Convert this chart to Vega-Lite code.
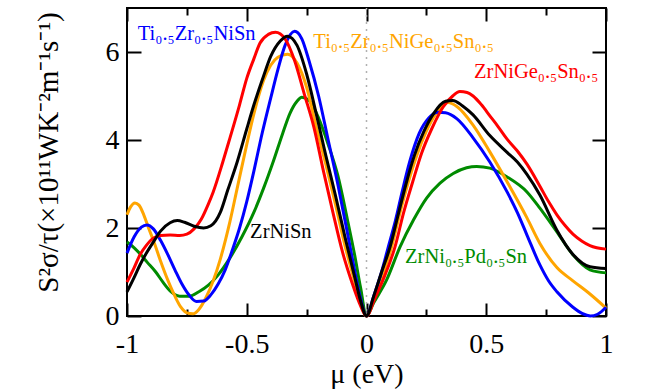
{
"$schema": "https://vega.github.io/schema/vega-lite/v6.json",
"width": 479, "height": 308,
"autosize": {"type": "none"},
"padding": {"left": 127, "top": 8, "right": 46, "bottom": 74},
"background": "white",
"config": {"view": {"stroke": "black", "strokeWidth": 2}},
"datasets": {
"curves": [
{"s":"ZrNi0.5Pd0.5Sn","x":-1,"y":1.68},{"s":"ZrNi0.5Pd0.5Sn","x":-0.97,"y":1.55},{"s":"ZrNi0.5Pd0.5Sn","x":-0.94,"y":1.38},{"s":"ZrNi0.5Pd0.5Sn","x":-0.917,"y":1.23},{"s":"ZrNi0.5Pd0.5Sn","x":-0.88,"y":1.0},{"s":"ZrNi0.5Pd0.5Sn","x":-0.85,"y":0.77},{"s":"ZrNi0.5Pd0.5Sn","x":-0.82,"y":0.57},{"s":"ZrNi0.5Pd0.5Sn","x":-0.78,"y":0.45},{"s":"ZrNi0.5Pd0.5Sn","x":-0.74,"y":0.45},{"s":"ZrNi0.5Pd0.5Sn","x":-0.7,"y":0.55},{"s":"ZrNi0.5Pd0.5Sn","x":-0.66,"y":0.7},{"s":"ZrNi0.5Pd0.5Sn","x":-0.62,"y":0.93},{"s":"ZrNi0.5Pd0.5Sn","x":-0.57,"y":1.32},{"s":"ZrNi0.5Pd0.5Sn","x":-0.52,"y":1.8},{"s":"ZrNi0.5Pd0.5Sn","x":-0.47,"y":2.36},{"s":"ZrNi0.5Pd0.5Sn","x":-0.43,"y":2.9},{"s":"ZrNi0.5Pd0.5Sn","x":-0.39,"y":3.5},{"s":"ZrNi0.5Pd0.5Sn","x":-0.35,"y":4.15},{"s":"ZrNi0.5Pd0.5Sn","x":-0.32,"y":4.6},{"s":"ZrNi0.5Pd0.5Sn","x":-0.29,"y":4.88},{"s":"ZrNi0.5Pd0.5Sn","x":-0.27,"y":4.97},{"s":"ZrNi0.5Pd0.5Sn","x":-0.24,"y":4.9},{"s":"ZrNi0.5Pd0.5Sn","x":-0.2,"y":4.5},{"s":"ZrNi0.5Pd0.5Sn","x":-0.16,"y":3.9},{"s":"ZrNi0.5Pd0.5Sn","x":-0.12,"y":3.2},{"s":"ZrNi0.5Pd0.5Sn","x":-0.08,"y":2.2},{"s":"ZrNi0.5Pd0.5Sn","x":-0.05,"y":1.4},{"s":"ZrNi0.5Pd0.5Sn","x":-0.025,"y":0.65},{"s":"ZrNi0.5Pd0.5Sn","x":0,"y":0},{"s":"ZrNi0.5Pd0.5Sn","x":0.03,"y":0.3},{"s":"ZrNi0.5Pd0.5Sn","x":0.084,"y":0.82},{"s":"ZrNi0.5Pd0.5Sn","x":0.14,"y":1.57},{"s":"ZrNi0.5Pd0.5Sn","x":0.196,"y":2.18},{"s":"ZrNi0.5Pd0.5Sn","x":0.251,"y":2.68},{"s":"ZrNi0.5Pd0.5Sn","x":0.307,"y":3.02},{"s":"ZrNi0.5Pd0.5Sn","x":0.362,"y":3.24},{"s":"ZrNi0.5Pd0.5Sn","x":0.418,"y":3.37},{"s":"ZrNi0.5Pd0.5Sn","x":0.46,"y":3.4},{"s":"ZrNi0.5Pd0.5Sn","x":0.515,"y":3.36},{"s":"ZrNi0.5Pd0.5Sn","x":0.587,"y":3.16},{"s":"ZrNi0.5Pd0.5Sn","x":0.67,"y":2.82},{"s":"ZrNi0.5Pd0.5Sn","x":0.724,"y":2.45},{"s":"ZrNi0.5Pd0.5Sn","x":0.795,"y":1.91},{"s":"ZrNi0.5Pd0.5Sn","x":0.862,"y":1.39},{"s":"ZrNi0.5Pd0.5Sn","x":0.933,"y":1.05},{"s":"ZrNi0.5Pd0.5Sn","x":1,"y":0.98},
{"s":"Ti0.5Zr0.5NiGe0.5Sn0.5","x":-1,"y":2.3},{"s":"Ti0.5Zr0.5NiGe0.5Sn0.5","x":-0.985,"y":2.48},{"s":"Ti0.5Zr0.5NiGe0.5Sn0.5","x":-0.967,"y":2.57},{"s":"Ti0.5Zr0.5NiGe0.5Sn0.5","x":-0.95,"y":2.52},{"s":"Ti0.5Zr0.5NiGe0.5Sn0.5","x":-0.93,"y":2.3},{"s":"Ti0.5Zr0.5NiGe0.5Sn0.5","x":-0.91,"y":2.0},{"s":"Ti0.5Zr0.5NiGe0.5Sn0.5","x":-0.89,"y":1.72},{"s":"Ti0.5Zr0.5NiGe0.5Sn0.5","x":-0.86,"y":1.25},{"s":"Ti0.5Zr0.5NiGe0.5Sn0.5","x":-0.83,"y":0.82},{"s":"Ti0.5Zr0.5NiGe0.5Sn0.5","x":-0.8,"y":0.45},{"s":"Ti0.5Zr0.5NiGe0.5Sn0.5","x":-0.775,"y":0.2},{"s":"Ti0.5Zr0.5NiGe0.5Sn0.5","x":-0.75,"y":0.07},{"s":"Ti0.5Zr0.5NiGe0.5Sn0.5","x":-0.725,"y":0.05},{"s":"Ti0.5Zr0.5NiGe0.5Sn0.5","x":-0.7,"y":0.15},{"s":"Ti0.5Zr0.5NiGe0.5Sn0.5","x":-0.67,"y":0.42},{"s":"Ti0.5Zr0.5NiGe0.5Sn0.5","x":-0.64,"y":0.8},{"s":"Ti0.5Zr0.5NiGe0.5Sn0.5","x":-0.61,"y":1.3},{"s":"Ti0.5Zr0.5NiGe0.5Sn0.5","x":-0.57,"y":2.15},{"s":"Ti0.5Zr0.5NiGe0.5Sn0.5","x":-0.54,"y":2.9},{"s":"Ti0.5Zr0.5NiGe0.5Sn0.5","x":-0.5,"y":3.9},{"s":"Ti0.5Zr0.5NiGe0.5Sn0.5","x":-0.47,"y":4.6},{"s":"Ti0.5Zr0.5NiGe0.5Sn0.5","x":-0.43,"y":5.35},{"s":"Ti0.5Zr0.5NiGe0.5Sn0.5","x":-0.4,"y":5.7},{"s":"Ti0.5Zr0.5NiGe0.5Sn0.5","x":-0.37,"y":5.88},{"s":"Ti0.5Zr0.5NiGe0.5Sn0.5","x":-0.33,"y":5.95},{"s":"Ti0.5Zr0.5NiGe0.5Sn0.5","x":-0.29,"y":5.75},{"s":"Ti0.5Zr0.5NiGe0.5Sn0.5","x":-0.25,"y":5.2},{"s":"Ti0.5Zr0.5NiGe0.5Sn0.5","x":-0.21,"y":4.3},{"s":"Ti0.5Zr0.5NiGe0.5Sn0.5","x":-0.17,"y":3.45},{"s":"Ti0.5Zr0.5NiGe0.5Sn0.5","x":-0.13,"y":2.55},{"s":"Ti0.5Zr0.5NiGe0.5Sn0.5","x":-0.09,"y":1.6},{"s":"Ti0.5Zr0.5NiGe0.5Sn0.5","x":-0.05,"y":0.8},{"s":"Ti0.5Zr0.5NiGe0.5Sn0.5","x":-0.025,"y":0.3},{"s":"Ti0.5Zr0.5NiGe0.5Sn0.5","x":0,"y":0},{"s":"Ti0.5Zr0.5NiGe0.5Sn0.5","x":0.03,"y":0.4},{"s":"Ti0.5Zr0.5NiGe0.5Sn0.5","x":0.065,"y":0.9},{"s":"Ti0.5Zr0.5NiGe0.5Sn0.5","x":0.105,"y":1.57},{"s":"Ti0.5Zr0.5NiGe0.5Sn0.5","x":0.14,"y":2.35},{"s":"Ti0.5Zr0.5NiGe0.5Sn0.5","x":0.175,"y":3.05},{"s":"Ti0.5Zr0.5NiGe0.5Sn0.5","x":0.21,"y":3.65},{"s":"Ti0.5Zr0.5NiGe0.5Sn0.5","x":0.25,"y":4.2},{"s":"Ti0.5Zr0.5NiGe0.5Sn0.5","x":0.29,"y":4.6},{"s":"Ti0.5Zr0.5NiGe0.5Sn0.5","x":0.34,"y":4.85},{"s":"Ti0.5Zr0.5NiGe0.5Sn0.5","x":0.38,"y":4.75},{"s":"Ti0.5Zr0.5NiGe0.5Sn0.5","x":0.445,"y":4.34},{"s":"Ti0.5Zr0.5NiGe0.5Sn0.5","x":0.515,"y":3.73},{"s":"Ti0.5Zr0.5NiGe0.5Sn0.5","x":0.587,"y":3.05},{"s":"Ti0.5Zr0.5NiGe0.5Sn0.5","x":0.67,"y":2.23},{"s":"Ti0.5Zr0.5NiGe0.5Sn0.5","x":0.724,"y":1.65},{"s":"Ti0.5Zr0.5NiGe0.5Sn0.5","x":0.795,"y":1.1},{"s":"Ti0.5Zr0.5NiGe0.5Sn0.5","x":0.862,"y":0.8},{"s":"Ti0.5Zr0.5NiGe0.5Sn0.5","x":0.933,"y":0.5},{"s":"Ti0.5Zr0.5NiGe0.5Sn0.5","x":1,"y":0.18},
{"s":"Ti0.5Zr0.5NiSn","x":-1,"y":1.43},{"s":"Ti0.5Zr0.5NiSn","x":-0.97,"y":1.8},{"s":"Ti0.5Zr0.5NiSn","x":-0.94,"y":2.02},{"s":"Ti0.5Zr0.5NiSn","x":-0.917,"y":2.07},{"s":"Ti0.5Zr0.5NiSn","x":-0.89,"y":1.98},{"s":"Ti0.5Zr0.5NiSn","x":-0.86,"y":1.72},{"s":"Ti0.5Zr0.5NiSn","x":-0.83,"y":1.4},{"s":"Ti0.5Zr0.5NiSn","x":-0.8,"y":1.05},{"s":"Ti0.5Zr0.5NiSn","x":-0.77,"y":0.72},{"s":"Ti0.5Zr0.5NiSn","x":-0.74,"y":0.47},{"s":"Ti0.5Zr0.5NiSn","x":-0.71,"y":0.33},{"s":"Ti0.5Zr0.5NiSn","x":-0.68,"y":0.34},{"s":"Ti0.5Zr0.5NiSn","x":-0.65,"y":0.48},{"s":"Ti0.5Zr0.5NiSn","x":-0.62,"y":0.72},{"s":"Ti0.5Zr0.5NiSn","x":-0.59,"y":1.05},{"s":"Ti0.5Zr0.5NiSn","x":-0.56,"y":1.5},{"s":"Ti0.5Zr0.5NiSn","x":-0.53,"y":2.0},{"s":"Ti0.5Zr0.5NiSn","x":-0.5,"y":2.6},{"s":"Ti0.5Zr0.5NiSn","x":-0.47,"y":3.3},{"s":"Ti0.5Zr0.5NiSn","x":-0.44,"y":4.05},{"s":"Ti0.5Zr0.5NiSn","x":-0.4,"y":4.95},{"s":"Ti0.5Zr0.5NiSn","x":-0.37,"y":5.6},{"s":"Ti0.5Zr0.5NiSn","x":-0.34,"y":6.15},{"s":"Ti0.5Zr0.5NiSn","x":-0.3,"y":6.47},{"s":"Ti0.5Zr0.5NiSn","x":-0.27,"y":6.3},{"s":"Ti0.5Zr0.5NiSn","x":-0.24,"y":5.8},{"s":"Ti0.5Zr0.5NiSn","x":-0.2,"y":5.0},{"s":"Ti0.5Zr0.5NiSn","x":-0.16,"y":4.0},{"s":"Ti0.5Zr0.5NiSn","x":-0.12,"y":3.0},{"s":"Ti0.5Zr0.5NiSn","x":-0.08,"y":1.9},{"s":"Ti0.5Zr0.5NiSn","x":-0.05,"y":1.05},{"s":"Ti0.5Zr0.5NiSn","x":-0.025,"y":0.4},{"s":"Ti0.5Zr0.5NiSn","x":0,"y":0},{"s":"Ti0.5Zr0.5NiSn","x":0.03,"y":0.45},{"s":"Ti0.5Zr0.5NiSn","x":0.06,"y":0.95},{"s":"Ti0.5Zr0.5NiSn","x":0.09,"y":1.55},{"s":"Ti0.5Zr0.5NiSn","x":0.12,"y":2.15},{"s":"Ti0.5Zr0.5NiSn","x":0.15,"y":2.85},{"s":"Ti0.5Zr0.5NiSn","x":0.18,"y":3.5},{"s":"Ti0.5Zr0.5NiSn","x":0.22,"y":4.15},{"s":"Ti0.5Zr0.5NiSn","x":0.26,"y":4.5},{"s":"Ti0.5Zr0.5NiSn","x":0.3,"y":4.63},{"s":"Ti0.5Zr0.5NiSn","x":0.33,"y":4.62},{"s":"Ti0.5Zr0.5NiSn","x":0.378,"y":4.48},{"s":"Ti0.5Zr0.5NiSn","x":0.445,"y":4.05},{"s":"Ti0.5Zr0.5NiSn","x":0.515,"y":3.5},{"s":"Ti0.5Zr0.5NiSn","x":0.587,"y":2.82},{"s":"Ti0.5Zr0.5NiSn","x":0.63,"y":2.35},{"s":"Ti0.5Zr0.5NiSn","x":0.67,"y":1.84},{"s":"Ti0.5Zr0.5NiSn","x":0.724,"y":1.16},{"s":"Ti0.5Zr0.5NiSn","x":0.76,"y":0.8},{"s":"Ti0.5Zr0.5NiSn","x":0.795,"y":0.55},{"s":"Ti0.5Zr0.5NiSn","x":0.862,"y":0.2},{"s":"Ti0.5Zr0.5NiSn","x":0.9,"y":0.06},{"s":"Ti0.5Zr0.5NiSn","x":0.935,"y":0.0},{"s":"Ti0.5Zr0.5NiSn","x":0.965,"y":0.04},{"s":"Ti0.5Zr0.5NiSn","x":1,"y":0.2},
{"s":"ZrNiGe0.5Sn0.5","x":-1,"y":0.77},{"s":"ZrNiGe0.5Sn0.5","x":-0.97,"y":1.1},{"s":"ZrNiGe0.5Sn0.5","x":-0.946,"y":1.39},{"s":"ZrNiGe0.5Sn0.5","x":-0.92,"y":1.6},{"s":"ZrNiGe0.5Sn0.5","x":-0.89,"y":1.77},{"s":"ZrNiGe0.5Sn0.5","x":-0.86,"y":1.83},{"s":"ZrNiGe0.5Sn0.5","x":-0.82,"y":1.84},{"s":"ZrNiGe0.5Sn0.5","x":-0.78,"y":1.83},{"s":"ZrNiGe0.5Sn0.5","x":-0.75,"y":1.86},{"s":"ZrNiGe0.5Sn0.5","x":-0.72,"y":1.98},{"s":"ZrNiGe0.5Sn0.5","x":-0.69,"y":2.2},{"s":"ZrNiGe0.5Sn0.5","x":-0.66,"y":2.55},{"s":"ZrNiGe0.5Sn0.5","x":-0.64,"y":2.82},{"s":"ZrNiGe0.5Sn0.5","x":-0.6,"y":3.5},{"s":"ZrNiGe0.5Sn0.5","x":-0.57,"y":4.05},{"s":"ZrNiGe0.5Sn0.5","x":-0.53,"y":4.8},{"s":"ZrNiGe0.5Sn0.5","x":-0.5,"y":5.4},{"s":"ZrNiGe0.5Sn0.5","x":-0.47,"y":5.85},{"s":"ZrNiGe0.5Sn0.5","x":-0.445,"y":6.2},{"s":"ZrNiGe0.5Sn0.5","x":-0.41,"y":6.4},{"s":"ZrNiGe0.5Sn0.5","x":-0.38,"y":6.45},{"s":"ZrNiGe0.5Sn0.5","x":-0.34,"y":6.3},{"s":"ZrNiGe0.5Sn0.5","x":-0.3,"y":5.8},{"s":"ZrNiGe0.5Sn0.5","x":-0.26,"y":5.05},{"s":"ZrNiGe0.5Sn0.5","x":-0.22,"y":4.3},{"s":"ZrNiGe0.5Sn0.5","x":-0.18,"y":3.3},{"s":"ZrNiGe0.5Sn0.5","x":-0.14,"y":2.35},{"s":"ZrNiGe0.5Sn0.5","x":-0.1,"y":1.45},{"s":"ZrNiGe0.5Sn0.5","x":-0.06,"y":0.75},{"s":"ZrNiGe0.5Sn0.5","x":-0.03,"y":0.3},{"s":"ZrNiGe0.5Sn0.5","x":0,"y":0},{"s":"ZrNiGe0.5Sn0.5","x":0.035,"y":0.4},{"s":"ZrNiGe0.5Sn0.5","x":0.075,"y":0.9},{"s":"ZrNiGe0.5Sn0.5","x":0.119,"y":1.57},{"s":"ZrNiGe0.5Sn0.5","x":0.155,"y":2.35},{"s":"ZrNiGe0.5Sn0.5","x":0.193,"y":3.05},{"s":"ZrNiGe0.5Sn0.5","x":0.23,"y":3.7},{"s":"ZrNiGe0.5Sn0.5","x":0.272,"y":4.25},{"s":"ZrNiGe0.5Sn0.5","x":0.32,"y":4.75},{"s":"ZrNiGe0.5Sn0.5","x":0.36,"y":5.0},{"s":"ZrNiGe0.5Sn0.5","x":0.39,"y":5.1},{"s":"ZrNiGe0.5Sn0.5","x":0.42,"y":5.08},{"s":"ZrNiGe0.5Sn0.5","x":0.445,"y":5.0},{"s":"ZrNiGe0.5Sn0.5","x":0.48,"y":4.8},{"s":"ZrNiGe0.5Sn0.5","x":0.515,"y":4.55},{"s":"ZrNiGe0.5Sn0.5","x":0.55,"y":4.3},{"s":"ZrNiGe0.5Sn0.5","x":0.587,"y":4.02},{"s":"ZrNiGe0.5Sn0.5","x":0.63,"y":3.75},{"s":"ZrNiGe0.5Sn0.5","x":0.67,"y":3.45},{"s":"ZrNiGe0.5Sn0.5","x":0.724,"y":2.95},{"s":"ZrNiGe0.5Sn0.5","x":0.76,"y":2.6},{"s":"ZrNiGe0.5Sn0.5","x":0.795,"y":2.3},{"s":"ZrNiGe0.5Sn0.5","x":0.83,"y":2.05},{"s":"ZrNiGe0.5Sn0.5","x":0.862,"y":1.86},{"s":"ZrNiGe0.5Sn0.5","x":0.9,"y":1.7},{"s":"ZrNiGe0.5Sn0.5","x":0.933,"y":1.6},{"s":"ZrNiGe0.5Sn0.5","x":1,"y":1.52},
{"s":"ZrNiSn","x":-1,"y":0.55},{"s":"ZrNiSn","x":-0.97,"y":0.88},{"s":"ZrNiSn","x":-0.946,"y":1.16},{"s":"ZrNiSn","x":-0.92,"y":1.42},{"s":"ZrNiSn","x":-0.89,"y":1.68},{"s":"ZrNiSn","x":-0.86,"y":1.93},{"s":"ZrNiSn","x":-0.82,"y":2.12},{"s":"ZrNiSn","x":-0.79,"y":2.17},{"s":"ZrNiSn","x":-0.76,"y":2.13},{"s":"ZrNiSn","x":-0.72,"y":2.04},{"s":"ZrNiSn","x":-0.68,"y":2.0},{"s":"ZrNiSn","x":-0.65,"y":2.05},{"s":"ZrNiSn","x":-0.61,"y":2.36},{"s":"ZrNiSn","x":-0.58,"y":2.85},{"s":"ZrNiSn","x":-0.54,"y":3.5},{"s":"ZrNiSn","x":-0.5,"y":4.25},{"s":"ZrNiSn","x":-0.47,"y":4.8},{"s":"ZrNiSn","x":-0.43,"y":5.45},{"s":"ZrNiSn","x":-0.4,"y":5.9},{"s":"ZrNiSn","x":-0.36,"y":6.25},{"s":"ZrNiSn","x":-0.33,"y":6.36},{"s":"ZrNiSn","x":-0.29,"y":6.15},{"s":"ZrNiSn","x":-0.25,"y":5.5},{"s":"ZrNiSn","x":-0.21,"y":4.6},{"s":"ZrNiSn","x":-0.17,"y":3.65},{"s":"ZrNiSn","x":-0.13,"y":2.75},{"s":"ZrNiSn","x":-0.09,"y":1.8},{"s":"ZrNiSn","x":-0.05,"y":0.9},{"s":"ZrNiSn","x":-0.025,"y":0.35},{"s":"ZrNiSn","x":0,"y":0},{"s":"ZrNiSn","x":0.03,"y":0.45},{"s":"ZrNiSn","x":0.06,"y":0.95},{"s":"ZrNiSn","x":0.1,"y":1.6},{"s":"ZrNiSn","x":0.13,"y":2.25},{"s":"ZrNiSn","x":0.165,"y":3.0},{"s":"ZrNiSn","x":0.2,"y":3.65},{"s":"ZrNiSn","x":0.24,"y":4.2},{"s":"ZrNiSn","x":0.28,"y":4.6},{"s":"ZrNiSn","x":0.33,"y":4.88},{"s":"ZrNiSn","x":0.36,"y":4.9},{"s":"ZrNiSn","x":0.4,"y":4.78},{"s":"ZrNiSn","x":0.445,"y":4.57},{"s":"ZrNiSn","x":0.515,"y":4.1},{"s":"ZrNiSn","x":0.587,"y":3.72},{"s":"ZrNiSn","x":0.63,"y":3.5},{"s":"ZrNiSn","x":0.67,"y":3.22},{"s":"ZrNiSn","x":0.724,"y":2.75},{"s":"ZrNiSn","x":0.795,"y":1.95},{"s":"ZrNiSn","x":0.862,"y":1.4},{"s":"ZrNiSn","x":0.933,"y":1.12},{"s":"ZrNiSn","x":1,"y":1.08}
],
"labels": [
{"s":"Ti0.5Zr0.5NiSn","text":"Ti₀.₅Zr₀.₅NiSn","x":-0.955,"y":6.27},
{"s":"Ti0.5Zr0.5NiGe0.5Sn0.5","text":"Ti₀.₅Zr₀.₅NiGe₀.₅Sn₀.₅","x":-0.222,"y":6.08},
{"s":"ZrNiGe0.5Sn0.5","text":"ZrNiGe₀.₅Sn₀.₅","x":0.449,"y":5.41},
{"s":"ZrNiSn","text":"ZrNiSn","x":-0.486,"y":1.77},
{"s":"ZrNi0.5Pd0.5Sn","text":"ZrNi₀.₅Pd₀.₅Sn","x":0.161,"y":1.2}
],
"zero": [{"x":0}]
},
"resolve": {"axis": {"x": "independent", "y": "independent"}},
"layer": [
{"data": {"name": "zero"},
 "mark": {"type": "rule", "color": "#b0b0b0", "strokeDash": [2, 5], "strokeWidth": 1.5},
 "encoding": {"x": {"field": "x", "type": "quantitative", "scale": {"domain": [-1, 1], "nice": false, "zero": false},
   "axis": {"orient": "bottom", "values": [-0.75, -0.25, 0.25, 0.75], "tickSize": -7, "tickWidth": 2, "tickColor": "black", "labels": false, "domain": false, "grid": false, "title": null}}}},
{"data": {"name": "zero"},
 "mark": {"type": "rule", "opacity": 0},
 "encoding": {"x": {"field": "x", "type": "quantitative", "scale": {"domain": [-1, 1], "nice": false, "zero": false},
   "axis": {"orient": "top", "values": [-0.75, -0.25, 0.25, 0.75], "tickSize": -7, "tickWidth": 2, "tickColor": "black", "labels": false, "domain": false, "grid": false, "title": null}}}},
{"data": {"name": "curves"},
 "mark": {"type": "line", "interpolate": "monotone", "strokeWidth": 3},
 "encoding": {
  "x": {"field": "x", "type": "quantitative", "scale": {"domain": [-1, 1], "nice": false, "zero": false},
   "axis": {"orient": "bottom", "values": [-1, -0.5, 0, 0.5, 1], "format": "~g", "tickSize": -13, "tickWidth": 2, "tickColor": "black", "domain": false, "grid": false,
     "labelPadding": 27, "labelFontSize": 28, "labelFont": "Liberation Serif", "labelColor": "black", "labelFlush": false, "labelOverlap": false,
     "labelExpr": "replace(datum.label, '−', '-')",
     "title": "μ (eV)", "titleFont": "Liberation Serif", "titleFontSize": 28, "titleFontWeight": "normal", "titleColor": "black", "titleBaseline": "top", "titleY": 44}},
  "y": {"field": "y", "type": "quantitative", "scale": {"domain": [0, 7], "nice": false},
   "axis": {"orient": "left", "values": [0, 2, 4, 6], "format": "~g", "tickSize": -14, "tickWidth": 2, "tickColor": "black", "domain": false, "grid": false,
     "labelPadding": 22, "labelFontSize": 28, "labelFont": "Liberation Serif", "labelColor": "black", "labelFlush": false, "labelOverlap": false,
     "title": "S²σ/τ(×10¹¹WK⁻²m⁻¹s⁻¹)", "titleFont": "Liberation Serif", "titleFontSize": 29, "titleFontWeight": "normal", "titleColor": "black", "titlePadding": 42, "titleY": 144}},
  "color": {"field": "s", "type": "nominal", "legend": null,
   "scale": {"domain": ["Ti0.5Zr0.5NiSn", "Ti0.5Zr0.5NiGe0.5Sn0.5", "ZrNiGe0.5Sn0.5", "ZrNiSn", "ZrNi0.5Pd0.5Sn"], "range": ["#0000ff", "#ffa500", "#ff0000", "#000000", "#008b00"]}}
 }},
{"data": {"name": "labels"},
 "mark": {"type": "text", "align": "left", "baseline": "alphabetic", "font": "Liberation Serif", "fontSize": 20.5},
 "encoding": {
  "x": {"field": "x", "type": "quantitative", "scale": {"domain": [-1, 1], "nice": false, "zero": false},
   "axis": {"orient": "top", "values": [-1, -0.5, 0, 0.5, 1], "tickSize": -13, "tickWidth": 2, "tickColor": "black", "labels": false, "domain": false, "grid": false, "title": null}},
  "y": {"field": "y", "type": "quantitative", "scale": {"domain": [0, 7], "nice": false},
   "axis": {"orient": "right", "values": [0, 2, 4, 6], "tickSize": -14, "tickWidth": 2, "tickColor": "black", "labels": false, "domain": false, "grid": false, "title": null}},
  "text": {"field": "text"},
  "color": {"field": "s", "type": "nominal", "legend": null,
   "scale": {"domain": ["Ti0.5Zr0.5NiSn", "Ti0.5Zr0.5NiGe0.5Sn0.5", "ZrNiGe0.5Sn0.5", "ZrNiSn", "ZrNi0.5Pd0.5Sn"], "range": ["#0000ff", "#ffa500", "#ff0000", "#000000", "#008b00"]}}
 }}
]
}
